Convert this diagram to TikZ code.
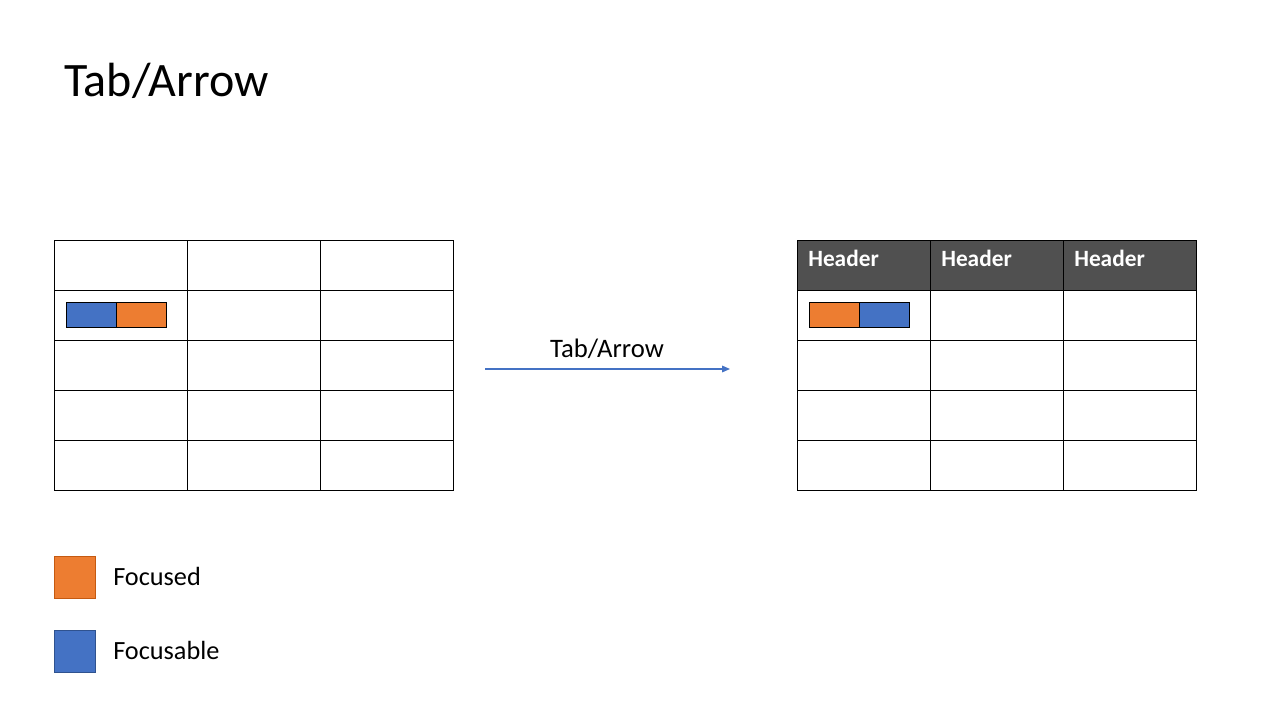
\documentclass[tikz,border=0pt]{standalone}
\usepackage{fontspec}
\setmainfont{Carlito}
\usetikzlibrary{arrows.meta}
\definecolor{focusorange}{HTML}{ED7D31}
\definecolor{focusorangeedge}{HTML}{C55A11}
\definecolor{focusblue}{HTML}{4472C4}
\definecolor{focusblueedge}{HTML}{2F528F}
\definecolor{headgray}{HTML}{505050}
\begin{document}
\begin{tikzpicture}[x=0.75pt,y=-0.75pt,
  cell/.style={draw=black,line width=0.9pt,minimum width=133*0.75pt,minimum height=50*0.75pt,inner sep=0pt,anchor=north west},
  headcell/.style={cell,fill=headgray},
  headtext/.style={inner sep=0pt,anchor=base west,text=white,font=\bfseries\fontsize{17.5}{21}\selectfont},
  chip/.style={draw=black,line width=0.9pt,minimum width=49.5*0.75pt,minimum height=25*0.75pt,inner sep=0pt,anchor=north west},
  legendbox/.style={minimum width=41*0.75pt,minimum height=42*0.75pt,inner sep=0pt,anchor=north west,line width=0.8pt},
  lbl/.style={inner sep=0pt,anchor=base west,font=\fontsize{19.7}{24}\selectfont},
  flow/.style={draw=focusblue,line width=0.8pt,-{Triangle[length=6pt,width=5pt]}}]
\useasboundingbox (0,0) rectangle (1280,720);
\fill[white] (0,0) rectangle (1280,720);
% title
\node[inner sep=0pt,anchor=base west,font=\fontsize{36}{42}\selectfont] (title) at (64,97) {Tab/Arrow};
% left table
\foreach \c in {0,1,2}{
  \foreach \r in {0,...,4}{
    \node[cell] (L\r\c) at ({54+133*\c},{240+50*\r}) {};
  }
}
% right table
\foreach \c in {0,1,2}{
  \node[headcell] (R0\c) at ({797+133*\c},240) {};
  \node[headtext] (H\c) at ({808+133*\c},267) {Header};
  \foreach \r in {1,...,4}{
    \node[cell] (R\r\c) at ({797+133*\c},{240+50*\r}) {};
  }
}
% chips left
\node[chip,fill=focusblue] (lblue) at (66,302) {};
\node[chip,fill=focusorange] (lorange) at (116,302) {};
% chips right
\node[chip,fill=focusorange] (rorange) at (809,302) {};
\node[chip,fill=focusblue] (rblue) at (859,302) {};
% arrow
\coordinate (as) at (485,369);
\coordinate (ae) at (730,369);
\draw[flow] (as) -- (ae);
\node[inner sep=0pt,anchor=base,font=\fontsize{20}{24}\selectfont] (alabel) at (607,357) {Tab/Arrow};
% legend
\node[legendbox,fill=focusorange,draw=focusorangeedge] (legF) at (54,556) {};
\node[lbl] (legFt) at (113,585) {Focused};
\node[legendbox,fill=focusblue,draw=focusblueedge] (legB) at (54,630) {};
\node[lbl] (legBt) at (113,659) {Focusable};
\end{tikzpicture}
\end{document}
